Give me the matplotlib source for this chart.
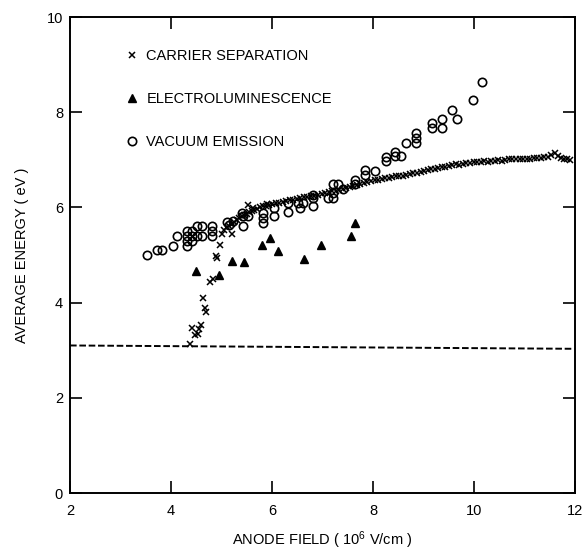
import matplotlib
matplotlib.use("Agg")
import matplotlib.pyplot as plt
import numpy as np

plt.rcParams['font.family'] = ['Liberation Sans', 'DejaVu Sans']
plt.rcParams['mathtext.fontset'] = 'custom'
plt.rcParams['mathtext.rm'] = 'Liberation Sans'

# carrier separation: steep rise near 4.4-5 MV/cm, then a slowly rising band
cs_x = [4.38, 4.42, 4.47, 4.53, 4.55, 4.60, 4.64, 4.67, 4.70, 4.77, 4.83,
        4.89, 4.92, 4.97, 5.00, 5.20, 5.52, 5.62, 5.90,
        5.05, 5.10, 5.15, 5.20, 5.25, 5.30, 5.35, 5.40, 5.45, 5.50, 5.55,
        5.60, 5.65, 5.70, 5.76, 5.82, 5.88, 5.94, 6.00, 6.07, 6.14, 6.21,
        6.28, 6.35, 6.42, 6.49, 6.56, 6.63, 6.70, 6.77, 6.84, 6.91, 6.98,
        7.05, 7.12, 7.19, 7.26, 7.33, 7.40, 7.47, 7.54, 7.61, 7.68, 7.75,
        7.82, 7.89, 7.96, 8.03, 8.10, 8.17, 8.24, 8.31, 8.38, 8.45, 8.52,
        8.59, 8.66, 8.73, 8.80, 8.87, 8.94, 9.01, 9.08, 9.15, 9.22, 9.29,
        9.36, 9.43, 9.50, 9.57, 9.64, 9.71, 9.78, 9.85, 9.92, 9.99, 10.06,
        10.13, 10.20, 10.27, 10.34, 10.41, 10.48, 10.55, 10.62, 10.69,
        10.76, 10.83, 10.90, 10.97, 11.04, 11.11, 11.18, 11.25, 11.32,
        11.39, 11.46, 11.53, 11.60, 11.66, 11.72, 11.78, 11.84, 11.90]
cs_y = [3.14, 3.47, 3.33, 3.35, 3.45, 3.52, 4.10, 3.88, 3.81, 4.44, 4.49,
        4.98, 4.93, 5.21, 5.44, 5.44, 6.05, 5.98, 6.08,
        5.52, 5.58, 5.62, 5.66, 5.70, 5.74, 5.77, 5.81, 5.84, 5.87, 5.90,
        5.93, 5.95, 5.97, 6.00, 6.02, 6.03, 6.05, 6.07, 6.09, 6.10, 6.12,
        6.14, 6.15, 6.16, 6.18, 6.19, 6.21, 6.22, 6.24, 6.25, 6.27, 6.29,
        6.31, 6.32, 6.34, 6.35, 6.37, 6.39, 6.41, 6.43, 6.45, 6.47, 6.49,
        6.51, 6.53, 6.55, 6.57, 6.58, 6.59, 6.61, 6.62, 6.63, 6.65, 6.66,
        6.67, 6.69, 6.70, 6.72, 6.73, 6.75, 6.77, 6.78, 6.80, 6.81, 6.83,
        6.84, 6.86, 6.88, 6.89, 6.91, 6.90, 6.92, 6.93, 6.94, 6.95, 6.95,
        6.96, 6.97, 6.96, 6.98, 6.98, 6.99, 6.98, 7.00, 7.01,
        7.02, 7.01, 7.02, 7.01, 7.02, 7.02, 7.03, 7.03, 7.04,
        7.05, 7.07, 7.10, 7.14, 7.08, 7.04, 7.02, 7.01, 7.00]

# electroluminescence
el_x = [4.49, 4.94, 5.20, 5.45, 5.80, 5.96, 6.12, 6.63, 6.97, 7.56, 7.64]
el_y = [4.67, 4.59, 4.88, 4.85, 5.22, 5.36, 5.08, 4.91, 5.22, 5.40, 5.68]

# vacuum emission
ve_x = [3.52, 3.72, 3.82, 4.03, 4.12, 4.32, 4.32, 4.32, 4.32, 4.42, 4.42,
        4.42, 4.52, 4.52, 4.62, 4.62, 4.82, 4.82, 4.82, 5.10, 5.15, 5.22,
        5.40, 5.43, 5.42, 5.53, 5.83, 5.83, 5.83, 6.03, 6.03, 6.32, 6.32,
        6.52, 6.55, 6.62, 6.82, 6.82, 6.82, 7.11, 7.21, 7.21, 7.21, 7.31,
        7.41, 7.64, 7.64, 7.84, 7.84, 8.04, 8.25, 8.25, 8.44, 8.44, 8.55,
        8.65, 8.85, 8.85, 8.85, 9.16, 9.16, 9.36, 9.36, 9.56, 9.66, 9.97,
        10.16]
ve_y = [5.00, 5.11, 5.11, 5.20, 5.40, 5.20, 5.30, 5.41, 5.51, 5.30, 5.41,
        5.51, 5.41, 5.60, 5.41, 5.60, 5.41, 5.50, 5.60, 5.70, 5.64, 5.72,
        5.88, 5.81, 5.62, 5.81, 5.88, 5.77, 5.68, 5.98, 5.81, 6.09, 5.90,
        6.09, 5.98, 6.10, 6.19, 6.02, 6.26, 6.19, 6.19, 6.30, 6.49, 6.49,
        6.38, 6.58, 6.50, 6.68, 6.79, 6.77, 7.07, 6.97, 7.17, 7.08, 7.08,
        7.36, 7.35, 7.45, 7.56, 7.66, 7.77, 7.66, 7.86, 8.05, 7.86, 8.26,
        8.64]

# photon energy threshold (dashed)
thr_x = [2, 12]
thr_y = [3.10, 3.03]

fig = plt.figure(figsize=(5.85, 5.5), dpi=100)
ax = fig.add_axes([0.1197, 0.1036, 0.8633, 0.8654])

ax.plot(cs_x, cs_y, 'x', color='black', markersize=5, markeredgewidth=1.1,
        linestyle='none', label='CARRIER SEPARATION')
ax.plot(el_x, el_y, '^', color='black', markersize=6,
        linestyle='none', label='ELECTROLUMINESCENCE')
ax.plot(ve_x, ve_y, 'o', markerfacecolor='none', markeredgecolor='black',
        markersize=6, markeredgewidth=1.2, linestyle='none',
        label='VACUUM EMISSION')
ax.plot(thr_x, thr_y, color='black', linewidth=1.4, dashes=(3.4, 1.4))

ax.set_xlim(2, 12)
ax.set_ylim(0, 10)
ax.set_xticks([2, 4, 6, 8, 10, 12])
ax.set_yticks([0, 2, 4, 6, 8, 10])
ax.tick_params(direction='in', length=8.5, width=1.2, labelsize=10.5,
               top=True, right=True)
ax.tick_params(axis='x', pad=8)
ax.tick_params(axis='y', pad=5)
for s in ax.spines.values():
    s.set_linewidth(1.4)

ax.set_xlabel(r'ANODE FIELD ( $\mathregular{10^6}$ V/cm )', fontsize=10.5)
ax.set_ylabel('AVERAGE ENERGY ( eV )', fontsize=10.5)
ax.xaxis.set_label_coords(0.5, -0.077)
ax.yaxis.set_label_coords(-0.081, 0.5)

ax.legend(loc='upper left', bbox_to_anchor=(0.108, 0.933), frameon=False,
          fontsize=10.5, handlelength=1.0, handletextpad=0.5,
          labelspacing=2.0, borderpad=0, borderaxespad=0, numpoints=1)

fig.savefig('out.png', dpi=100)
